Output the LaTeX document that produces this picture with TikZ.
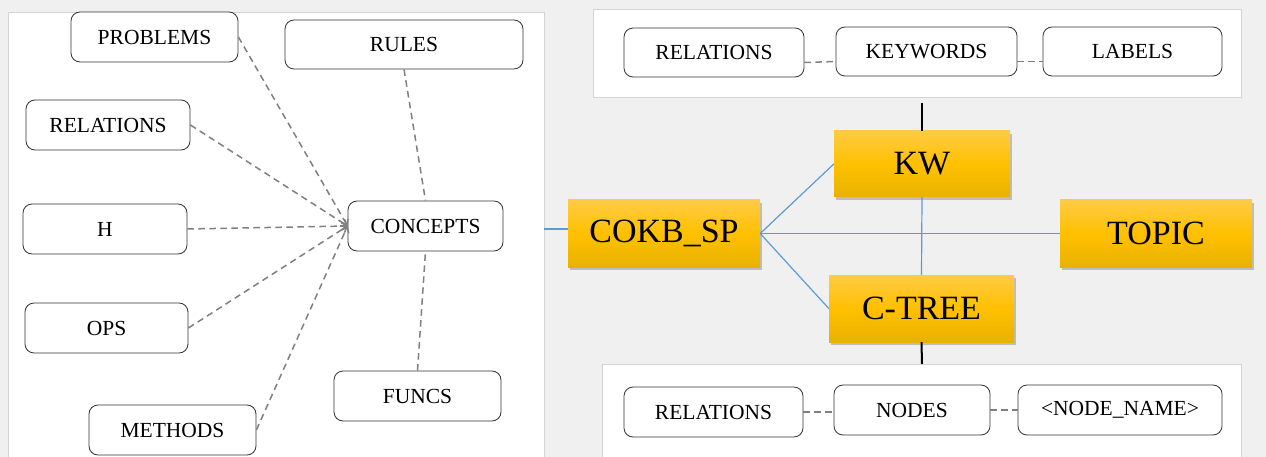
\documentclass[tikz,border=0pt]{standalone}
\usepackage{fontspec}
\setmainfont{Liberation Serif}
\usepackage{tikz}
\usetikzlibrary{shapes}
\usetikzlibrary{shadows}
\usetikzlibrary{arrows.meta}
\definecolor{panelgray}{HTML}{F0F0F0}
\definecolor{panelline}{HTML}{D4D4D4}
\definecolor{goldtop}{HTML}{FFCB45}
\definecolor{goldmid}{HTML}{FFC000}
\definecolor{goldbot}{HTML}{E8B200}
\definecolor{linkblue}{HTML}{5B9BD5}
\tikzset{
  smallbox/.style={
    draw=black!80, fill=white, rounded corners=9pt, line width=0.8pt,
    inner sep=0pt, align=center, font=\fontsize{21.5}{24}\selectfont,
  },
  goldbox/.style={
    top color=goldtop, bottom color=goldbot, middle color=goldmid,
    inner sep=0pt, align=center, font=\fontsize{34}{40}\selectfont,
    drop shadow={shadow xshift=2pt, shadow yshift=-3pt, opacity=0.45},
  },
  dashlink/.style={draw=black!50, line width=1.5pt, dash pattern=on 6.5pt off 4.5pt},
  bluelink/.style={draw=linkblue, line width=1.2pt},
}

\begin{document}
\begin{tikzpicture}[x=1pt, y=-1pt]
          \useasboundingbox (0,0) rectangle (1266,457);
          \fill [panelgray] (0,0) rectangle (1266,457);
          % left panel
          \draw [panelline, fill=white] (8,12) rectangle (544,470);
          % right panels
          \draw [panelline, fill=white] (593,9) rectangle (1241,97);
          \draw [panelline, fill=white] (602,364) rectangle (1241,470);

          \node [smallbox, minimum width=167pt, minimum height=50pt] (problems) at (154.5,37) {PROBLEMS};
          \node [smallbox, minimum width=238pt, minimum height=49pt] (rules) at (404,44.5) {RULES};
          \node [smallbox, minimum width=164pt, minimum height=50pt] (relations) at (108,125) {RELATIONS};
          \node [smallbox, minimum width=164pt, minimum height=50pt] (h) at (105,229) {H};
          \node [smallbox, minimum width=155pt, minimum height=50pt] (concepts) at (425.5,226) {CONCEPTS};
          \node [smallbox, minimum width=163pt, minimum height=50pt] (ops) at (106.5,328) {OPS};
          \node [smallbox, minimum width=167pt, minimum height=50pt] (funcs) at (417.5,396) {FUNCS};
          \node [smallbox, minimum width=167pt, minimum height=50pt] (methods) at (172.5,430) {METHODS};

          \node [smallbox, minimum width=180pt, minimum height=49pt] (kwrel) at (714,52.5) {RELATIONS};
          \node [smallbox, minimum width=181pt, minimum height=49pt] (keywords) at (926.5,51.5) {KEYWORDS};
          \node [smallbox, minimum width=179pt, minimum height=49pt] (labels) at (1132.5,51.5) {LABELS};

          \node [smallbox, minimum width=179pt, minimum height=50pt] (treerel) at (713.5,412) {RELATIONS};
          \node [smallbox, minimum width=156pt, minimum height=50pt] (nodes) at (912,410) {NODES};
          \node [smallbox, minimum width=204pt, minimum height=50pt] (nodename) at (1120,410) {<NODE\_NAME>};

          \node [goldbox, minimum width=176pt, minimum height=66pt] (kw) at (922,164) {KW};
          \node [goldbox, minimum width=192pt, minimum height=67pt] (cokb) at (664,233.5) {COKB\_SP};
          \node [goldbox, minimum width=192pt, minimum height=67pt] (topic) at (1156,233.5) {TOPIC};
          \node [goldbox, minimum width=185pt, minimum height=67pt] (ctree) at (921.5,308.5) {C-TREE};

          \coordinate (panelside) at (544,229);
          \coordinate (topbox) at (922,103);
          \coordinate (botbox) at (922,364);

        \foreach \src in {problems,relations,h,ops,methods}
          \draw [dashlink, -{Straight Barb[length=5pt,width=8pt]}] (\src.east) -- (concepts.west);
        \draw [dashlink] (rules.south) -- (concepts.north);
        \draw [dashlink] (funcs.north) -- (concepts.south);

        \draw [dashlink] ([yshift=-10pt]kwrel.east) -- ([yshift=-10pt]keywords.west);
        \draw [dashlink] ([yshift=-10pt]keywords.east) -- ([yshift=-10pt]labels.west);
        \draw [dashlink] (treerel.east) -- ([yshift=-2pt]nodes.west);
        \draw [dashlink] (nodes.east) -- (nodename.west);

        \draw [bluelink] (panelside) -- ([yshift=4.5pt]cokb.west);
        \draw [bluelink] (cokb.east) -- (kw.west);
        \draw [bluelink] (cokb.east) -- (topic.west);
        \draw [bluelink] (cokb.east) -- (ctree.west);
        \draw [bluelink] (kw.south) -- (ctree.north);

        \draw [line width=2pt] (topbox) -- (kw.north);
        \draw [line width=2pt] (ctree.south) -- (botbox);
    \end{tikzpicture}
\end{document}
